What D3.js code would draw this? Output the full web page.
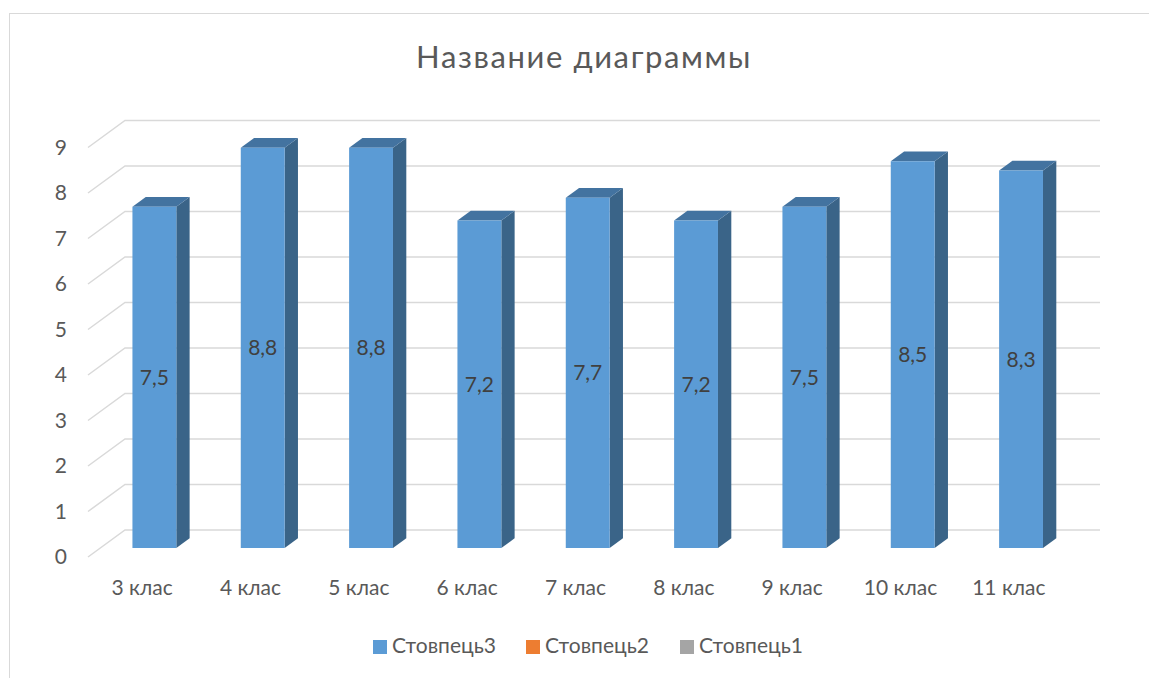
<!DOCTYPE html>
<html>
<head>
<meta charset="utf-8">
<script src="https://cdn.jsdelivr.net/npm/d3@7"></script>
<style>
  body { margin: 0; background: #fff; }
  text { font-family: Lato, "Liberation Sans", sans-serif; }
</style>
</head>
<body>
<script>
var categories = ["3 клас", "4 клас", "5 клас", "6 клас", "7 клас", "8 клас", "9 клас", "10 клас", "11 клас"];
var values = [7.5, 8.8, 8.8, 7.2, 7.7, 7.2, 7.5, 8.5, 8.3];
var labels = ["7,5", "8,8", "8,8", "7,2", "7,7", "7,2", "7,5", "8,5", "8,3"];
var yTicks = [0, 1, 2, 3, 4, 5, 6, 7, 8, 9];
var seriesNames = ["Стовпець3", "Стовпець2", "Стовпець1"];
var seriesColors = ["#5B9BD5", "#ED7D31", "#A5A5A5"];

function init(){
    var width = 1149, height = 678;
    var svg = d3.select("body").append("svg")
        .attr("width", width)
        .attr("height", height);

    // chart area border (cropped at right/bottom)
    svg.append("rect")
        .attr("x", 9.5).attr("y", 13.5)
        .attr("width", 1160).attr("height", 700)
        .attr("fill", "none")
        .attr("stroke", "#d9d9d9");

    // depth of the 3d box
    var DX = 37, DY = 27;

    var x = d3.scaleBand()
        .domain(categories)
        .range([88, 1063])
        .padding(0);

    var y = d3.scaleLinear()
        .domain([0, 9])
        .range([557, 557 - 9 * 45.5]);

    function proj(px, v, z){
        return [px + z * DX, y(v) - z * DY];
    }

    // gridlines: side wall diagonal + back wall horizontal
    var grid = svg.append("g");
    yTicks.forEach(function(t){
        var a = proj(x.range()[0], t, 0);
        var b = proj(x.range()[0], t, 1);
        var c = proj(x.range()[1], t, 1);
        grid.append("path")
            .attr("d", "M" + a + "L" + b + "L" + c)
            .attr("fill", "none")
            .attr("stroke", "#d9d9d9")
            .attr("stroke-width", 1.5);
    });

    // y tick labels
    svg.append("g").selectAll("text")
        .data(yTicks)
        .enter().append("text")
        .attr("x", 67)
        .attr("y", function(d){ return y(d) + 2; })
        .attr("text-anchor", "end")
        .attr("dominant-baseline", "middle")
        .attr("fill", "#595959")
        .attr("font-size", 21)
        .text(function(d){ return d; });

    // bars
    var z0 = 0.33, z1 = 0.69;
    var barW = x.bandwidth() * 0.405;
    var bars = svg.append("g").selectAll("g")
        .data(values)
        .enter().append("g");

    function left(i){ return x(categories[i]) + (x.bandwidth() - barW) / 2; }

    // side face
    bars.append("path")
        .attr("d", function(d, i){
            var l = left(i) + barW;
            var p = [proj(l, 0, z0), proj(l, 0, z1), proj(l, d, z1), proj(l, d, z0)];
            return "M" + p.join("L") + "Z";
        })
        .attr("fill", "#3A6488");

    // top face
    bars.append("path")
        .attr("d", function(d, i){
            var l = left(i), r = l + barW;
            var p = [proj(l, d, z0), proj(l, d, z1), proj(r, d, z1), proj(r, d, z0)];
            return "M" + p.join("L") + "Z";
        })
        .attr("fill", "#4373A0");

    // front face
    bars.append("path")
        .attr("d", function(d, i){
            var l = left(i), r = l + barW;
            var p = [proj(l, 0, z0), proj(l, d, z0), proj(r, d, z0), proj(r, 0, z0)];
            return "M" + p.join("L") + "Z";
        })
        .attr("fill", "#5B9BD5");

    // data labels
    bars.append("text")
        .attr("x", function(d, i){ return proj(left(i) + barW / 2, 0, z0)[0]; })
        .attr("y", function(d){ return (proj(0, 0, z0)[1] + proj(0, d, z0)[1]) / 2 + 2; })
        .attr("text-anchor", "middle")
        .attr("dominant-baseline", "middle")
        .attr("fill", "#404040")
        .attr("font-size", 21)
        .text(function(d, i){ return labels[i]; });

    // category labels
    svg.append("g").selectAll("text")
        .data(categories)
        .enter().append("text")
        .attr("x", function(d){ return x(d) + x.bandwidth() / 2; })
        .attr("y", 590)
        .attr("text-anchor", "middle")
        .attr("dominant-baseline", "middle")
        .attr("fill", "#595959")
        .attr("font-size", 21)
        .text(function(d){ return d; });

    // title
    svg.append("text")
        .attr("x", 584)
        .attr("y", 68)
        .attr("text-anchor", "middle")
        .attr("fill", "#595959")
        .attr("font-size", 31)
        .attr("letter-spacing", 1.6)
        .text("Название диаграммы");

    // legend
    var legendX = [373, 526, 680];
    var legend = svg.append("g").selectAll("g")
        .data(seriesNames)
        .enter().append("g")
        .attr("transform", function(d, i){ return "translate(" + legendX[i] + ",640)"; });
    legend.append("rect")
        .attr("width", 14).attr("height", 14)
        .attr("fill", function(d, i){ return seriesColors[i]; });
    legend.append("text")
        .attr("x", 19)
        .attr("y", 8)
        .attr("dominant-baseline", "middle")
        .attr("fill", "#595959")
        .attr("font-size", 21)
        .text(function(d){ return d; });
}

window.onload = init;
</script>
</body>
</html>
